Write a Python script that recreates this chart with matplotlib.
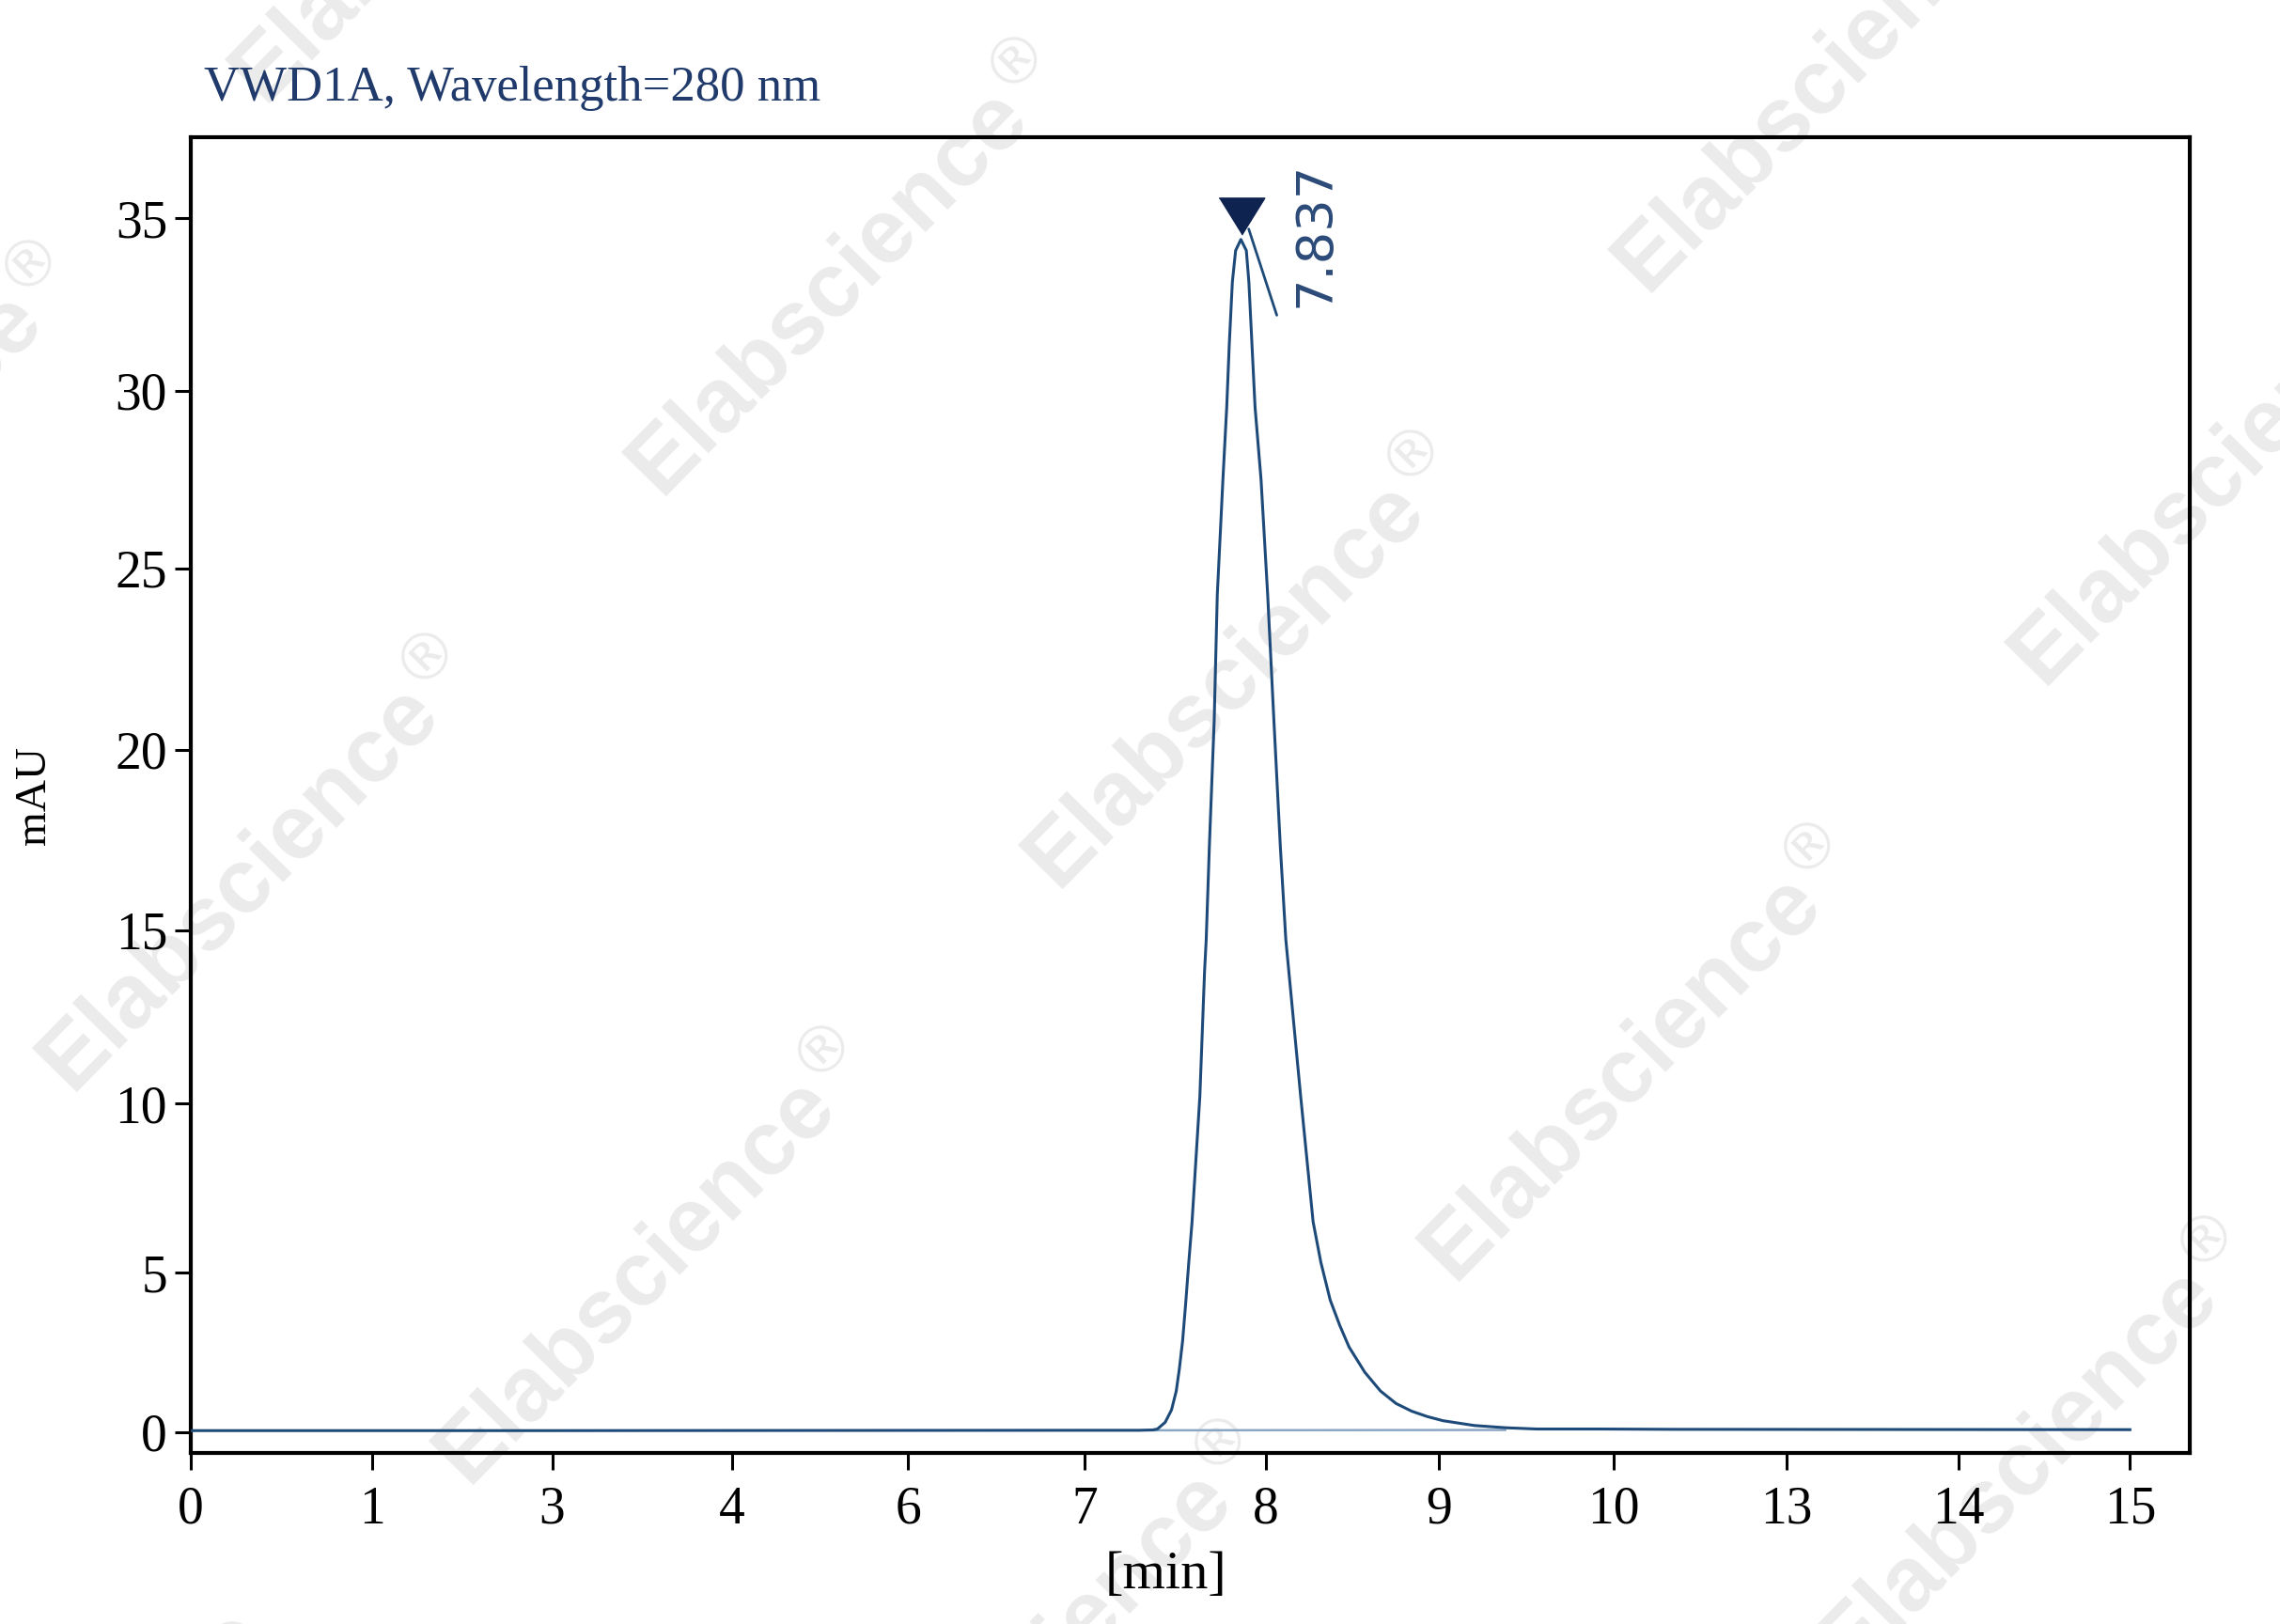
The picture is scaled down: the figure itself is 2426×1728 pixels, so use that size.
import numpy as np
import matplotlib
matplotlib.use("Agg")
import matplotlib.pyplot as plt
from matplotlib import transforms

# tick labels on the time axis (the instrument axis is not uniform)
x_ticks = [0, 1, 3, 4, 6, 7, 8, 9, 10, 13, 14, 15]
x_tick_pos = [0, 1.03, 2.05, 3.07, 4.07, 5.07, 6.10, 7.08, 8.07, 9.05, 10.03, 11.0]
y_ticks = [0, 5, 10, 15, 20, 25, 30, 35]
y_tick_pos = [0, 4.60, 9.48, 14.47, 19.67, 24.90, 30.02, 35.0]

# signal
t_min = [0.0, 3.0, 7.0, 7.30, 7.375, 7.401, 7.444, 7.479, 7.505, 7.522, 7.540,
         7.557, 7.574, 7.592, 7.635, 7.661, 7.670, 7.6875, 7.714, 7.731, 7.762,
         7.783, 7.797, 7.814, 7.832, 7.861, 7.891, 7.905, 7.922, 7.939, 7.972,
         8.009, 8.045, 8.082, 8.114, 8.200,
         8.272, 8.317, 8.371, 8.426, 8.480, 8.571, 8.662, 8.752, 8.842, 8.933,
         9.024, 9.203, 9.382, 9.56, 9.92, 11.0, 15.0]
mau = [0.05, 0.05, 0.06, 0.06, 0.07, 0.1, 0.31, 0.70, 1.29, 1.98, 2.86,
       4.04, 5.30, 6.5, 10.2, 13.82, 14.73, 17.34, 20.81, 24.27, 27.5,
       29.54, 31.34, 33.15, 34.06, 34.38, 34.06, 33.15, 31.34, 29.54, 27.5,
       24.27, 20.81, 17.34, 14.73, 10.2,
       6.5, 5.30, 4.14, 3.35, 2.67, 1.88, 1.29, 0.90, 0.66, 0.49,
       0.36, 0.21, 0.14, 0.10, 0.10, 0.09, 0.08]

# integration baseline
base_t = [7.375, 9.38]
base_v = [0.06, 0.07]

peak_label = "7.837"


def piecewise(src, dst):
    src = np.asarray(src, float)
    dst = np.asarray(dst, float)

    def f(v):
        v = np.asarray(v, float)
        out = np.interp(v, src, dst)
        s0 = (dst[1] - dst[0]) / (src[1] - src[0])
        s1 = (dst[-1] - dst[-2]) / (src[-1] - src[-2])
        out = np.where(v < src[0], dst[0] + (v - src[0]) * s0, out)
        out = np.where(v > src[-1], dst[-1] + (v - src[-1]) * s1, out)
        return out
    return f


W, H = 2426, 1728
fig = plt.figure(figsize=(W / 100, H / 100), dpi=100)
ax = fig.add_axes([203 / W, 1 - 1546 / H, 2127 / W, 1400 / H])
ax.set_facecolor("none")

ax.set_xscale("function", functions=(piecewise(x_ticks, x_tick_pos),
                                     piecewise(x_tick_pos, x_ticks)))
ax.set_yscale("function", functions=(piecewise(y_ticks, y_tick_pos),
                                     piecewise(y_tick_pos, y_ticks)))

line_col = "#1d4a78"
ax.plot(base_t, base_v, color="#8aa6c4", lw=1.8, zorder=2)
ax.plot(t_min, mau, color=line_col, lw=2.2, zorder=3, solid_joinstyle="round")

# peak marker + label
i_pk = int(np.argmax(mau))
pk_t, pk_v = t_min[i_pk], mau[i_pk]
tri = [(-0.62, 0.5), (0.62, 0.5), (0.0, -0.5)]
ax.plot([pk_t], [pk_v], marker=tri, markersize=35, color="#0f2350",
        transform=transforms.offset_copy(ax.transData, fig=fig, x=0.5, y=18, units="points"),
        zorder=5, clip_on=False)
ax.annotate("", xy=(pk_t, pk_v),
            xycoords=transforms.offset_copy(ax.transData, fig=fig, x=6, y=8, units="points"),
            xytext=(21.5, -66), textcoords="offset points",
            arrowprops=dict(arrowstyle="-", color=line_col, lw=2.0, shrinkA=0, shrinkB=0))
ax.annotate(peak_label, xy=(pk_t, pk_v), xytext=(57, 4), textcoords="offset points",
            rotation=90, ha="center", va="center", fontsize=39,
            family="DejaVu Sans", color="#2b4a78")

serif = "Liberation Serif"
ax.set_xlim(0, 15.35)
ax.set_ylim(-0.65, 37.34)
ax.set_xticks(x_ticks)
ax.set_xticklabels([str(v) for v in x_ticks], family=serif, fontsize=40)
ax.set_yticks(y_ticks)
ax.set_yticklabels([str(v) for v in y_ticks], family=serif, fontsize=40)
ax.minorticks_off()
ax.tick_params(axis="x", direction="out", length=13, width=2.2, pad=12)
ax.tick_params(axis="y", direction="out", length=12, width=2.2, pad=6)
for sp in ax.spines.values():
    sp.set_linewidth(3)

ax.set_xlabel("[min]", family=serif, fontsize=42)
ax.xaxis.set_label_coords(0.488, -0.074)
ax.set_ylabel("mAU", family=serif, fontsize=34)
ax.yaxis.set_label_coords(-0.068, 0.5)

fig.text(217 / W, 1 - 107 / H, "VWD1A, Wavelength=280 nm", family=serif,
         fontsize=38, color="#1f3a6b", va="baseline", ha="left")

# watermark grid
for i in range(-3, 5):
    for j in range(-2, 4):
        cx = 905 + i * 422 - j * 627
        cy = 294 + i * 418 + j * 634
        if -500 < cx < W + 500 and -500 < cy < H + 500:
            fig.text(cx / W, 1 - cy / H, r"Elabscience$^{\circledR}$",
                     family="Liberation Sans", weight="bold", fontsize=70,
                     color="#ebebeb", rotation=45.5, ha="center", va="center",
                     rotation_mode="anchor", zorder=-1)

fig.savefig("out.png", dpi=100)
